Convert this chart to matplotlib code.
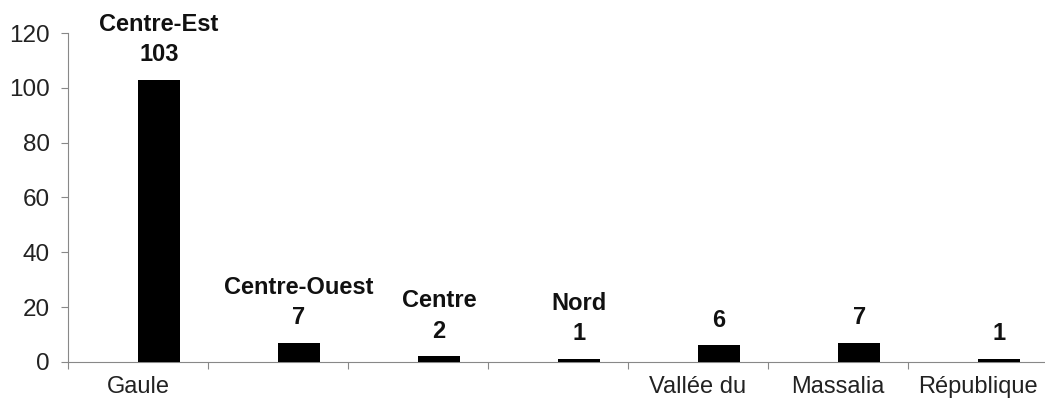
import numpy as np
from matplotlib import pyplot as plt
from matplotlib.ticker import FixedLocator, NullFormatter

plt.rcParams['font.family'] = ['Liberation Sans', 'DejaVu Sans']

#category labels under the axis
categories = ["Gaule", "", "", "", "Vallée du", "Massalia", "République"]
#region names printed above the bars
regions = ["Centre-Est", "Centre-Ouest", "Centre", "Nord", "", "", ""]
values = [103, 7, 2, 1, 6, 7, 1]

fig = plt.figure(figsize=(10.45, 4.08), dpi=100)
ax = fig.add_axes([0.065, 0.113, 0.938, 0.806])

n = len(values)
centers = np.arange(n) + 0.5
#bars are drawn to the right of each category centre
bar_x = centers + 0.15
ax.bar(bar_x, values, width=0.3, color="black", zorder=3)

for x, v, name in zip(bar_x, values, regions):
    txt = (name + "\n" + str(v)) if name else str(v)
    ax.annotate(txt, (x, v), xytext=(0, 10), textcoords="offset points",
                ha="center", va="bottom", fontsize=17, fontweight="bold",
                linespacing=1.4, color="#111111")

ax.set_xlim(0, n)
ax.set_ylim(0, 120)
ax.set_yticks(range(0, 121, 20))

#ticks at the category boundaries, labels at centres
ax.xaxis.set_major_locator(FixedLocator(np.arange(n + 1)))
ax.xaxis.set_major_formatter(NullFormatter())
ax.xaxis.set_minor_locator(FixedLocator(centers))
ax.set_xticklabels(categories, minor=True)
ax.tick_params(axis="x", which="minor", length=0, pad=10, labelsize=17, labelcolor="#222222")
ax.tick_params(axis="x", which="major", length=5, color="#888888", width=0.8)
ax.tick_params(axis="y", length=5, color="#888888", width=0.8, pad=8,
               labelsize=17.5, labelcolor="#222222")

for s in ["top", "right"]:
    ax.spines[s].set_visible(False)
for s in ["left", "bottom"]:
    ax.spines[s].set_color("#888888")
    ax.spines[s].set_linewidth(0.8)

plt.savefig("out.png", dpi=100)
